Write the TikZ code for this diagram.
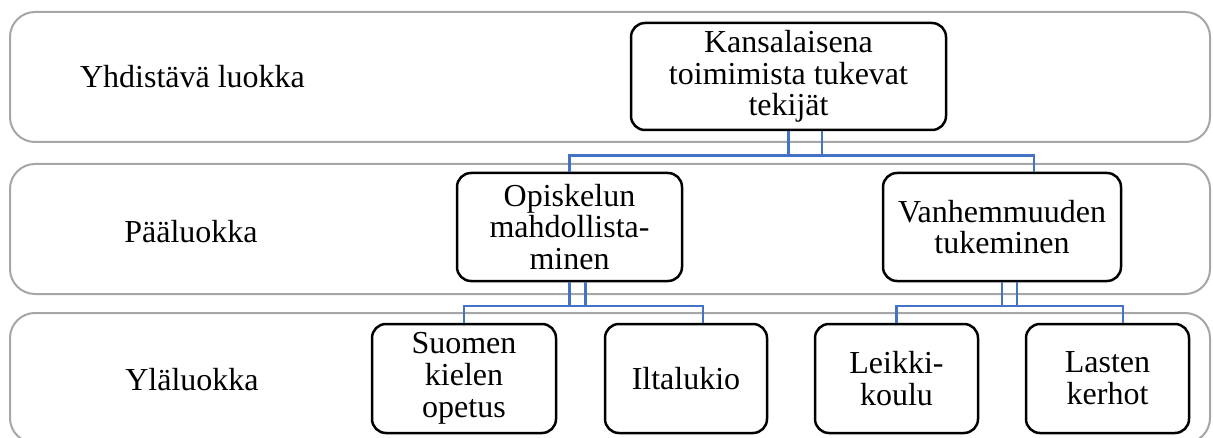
\documentclass[tikz,border=0pt]{standalone}
\usepackage{fontspec}
\setmainfont{Liberation Serif}
\definecolor{bandgray}{RGB}{166,166,166}
\definecolor{connblue}{RGB}{68,114,196}
\begin{document}
\begin{tikzpicture}[x=1pt,y=1pt,
  band/.style={draw=bandgray,line width=2pt,rounded corners=25pt},
  box/.style={draw=black,line width=2.5pt,rounded corners=14pt,fill=white,align=center,
    inner sep=0pt,font=\fontsize{32}{31.8}\selectfont},
  lbl/.style={font=\fontsize{32}{32}\selectfont,inner sep=0pt},
  conn/.style={draw=connblue,line width=2.4pt}]
\useasboundingbox (0,0) rectangle (1213,437);
\clip (0,0) rectangle (1213,437);
% bands
\draw[band] (10,425) rectangle (1210,295);
\draw[band] (10,273) rectangle (1210,143);
\draw[band] (10,124) rectangle (1210,-6);
% band labels
\node[lbl] (l1) at (192.5,360) {Yhdistävä luokka};
\node[lbl] (l2) at (191,205) {Pääluokka};
\node[lbl] (l3) at (192,57) {Yläluokka};
% boxes
\node[box,minimum width=315pt,minimum height=107pt] (top) at (788.5,360.5)
  {Kansalaisena\\toimimista tukevat\\tekijät};
\node[box,minimum width=225pt,minimum height=108pt] (op) at (569.5,210)
  {Opiskelun\\mahdollista-\\minen};
\node[box,minimum width=238pt,minimum height=108pt] (va) at (1002,210)
  {Vanhemmuuden\\tukeminen};
\node[box,minimum width=184pt,minimum height=109pt] (su) at (464,58.5)
  {Suomen\\kielen\\opetus};
\node[box,minimum width=162pt,minimum height=109pt] (il) at (686,58.5)
  {Iltalukio};
\node[box,minimum width=163pt,minimum height=109pt] (le) at (896.5,58.5)
  {Leikki-\\koulu};
\node[box,minimum width=163pt,minimum height=109pt] (la) at (1107.5,58.5)
  {Lasten\\kerhot};
% connectors level 1 -> 2
\coordinate (h1) at (788.5,281.3);
\draw[conn] (op.north) |- (h1) -| ([xshift=32pt]va.north);
\draw[conn] (top.south) -- (h1);
\draw[conn] ([xshift=33.5pt]top.south) -- ([xshift=33.5pt]h1);
% connectors level 2 -> 3 (left)
\coordinate (h2) at (569.5,131.3);
\draw[conn] (su.north) |- (h2) -| ([xshift=17pt]il.north);
\draw[conn] (op.south) -- (h2);
\draw[conn] ([xshift=16pt]op.south) -- ([xshift=16pt]h2);
% connectors level 2 -> 3 (right)
\coordinate (h3) at (1002,131.3);
\draw[conn] (le.north) |- (h3) -| ([xshift=15.5pt]la.north);
\draw[conn] (va.south) -- (h3);
\draw[conn] ([xshift=15pt]va.south) -- ([xshift=15pt]h3);
\end{tikzpicture}
\end{document}
